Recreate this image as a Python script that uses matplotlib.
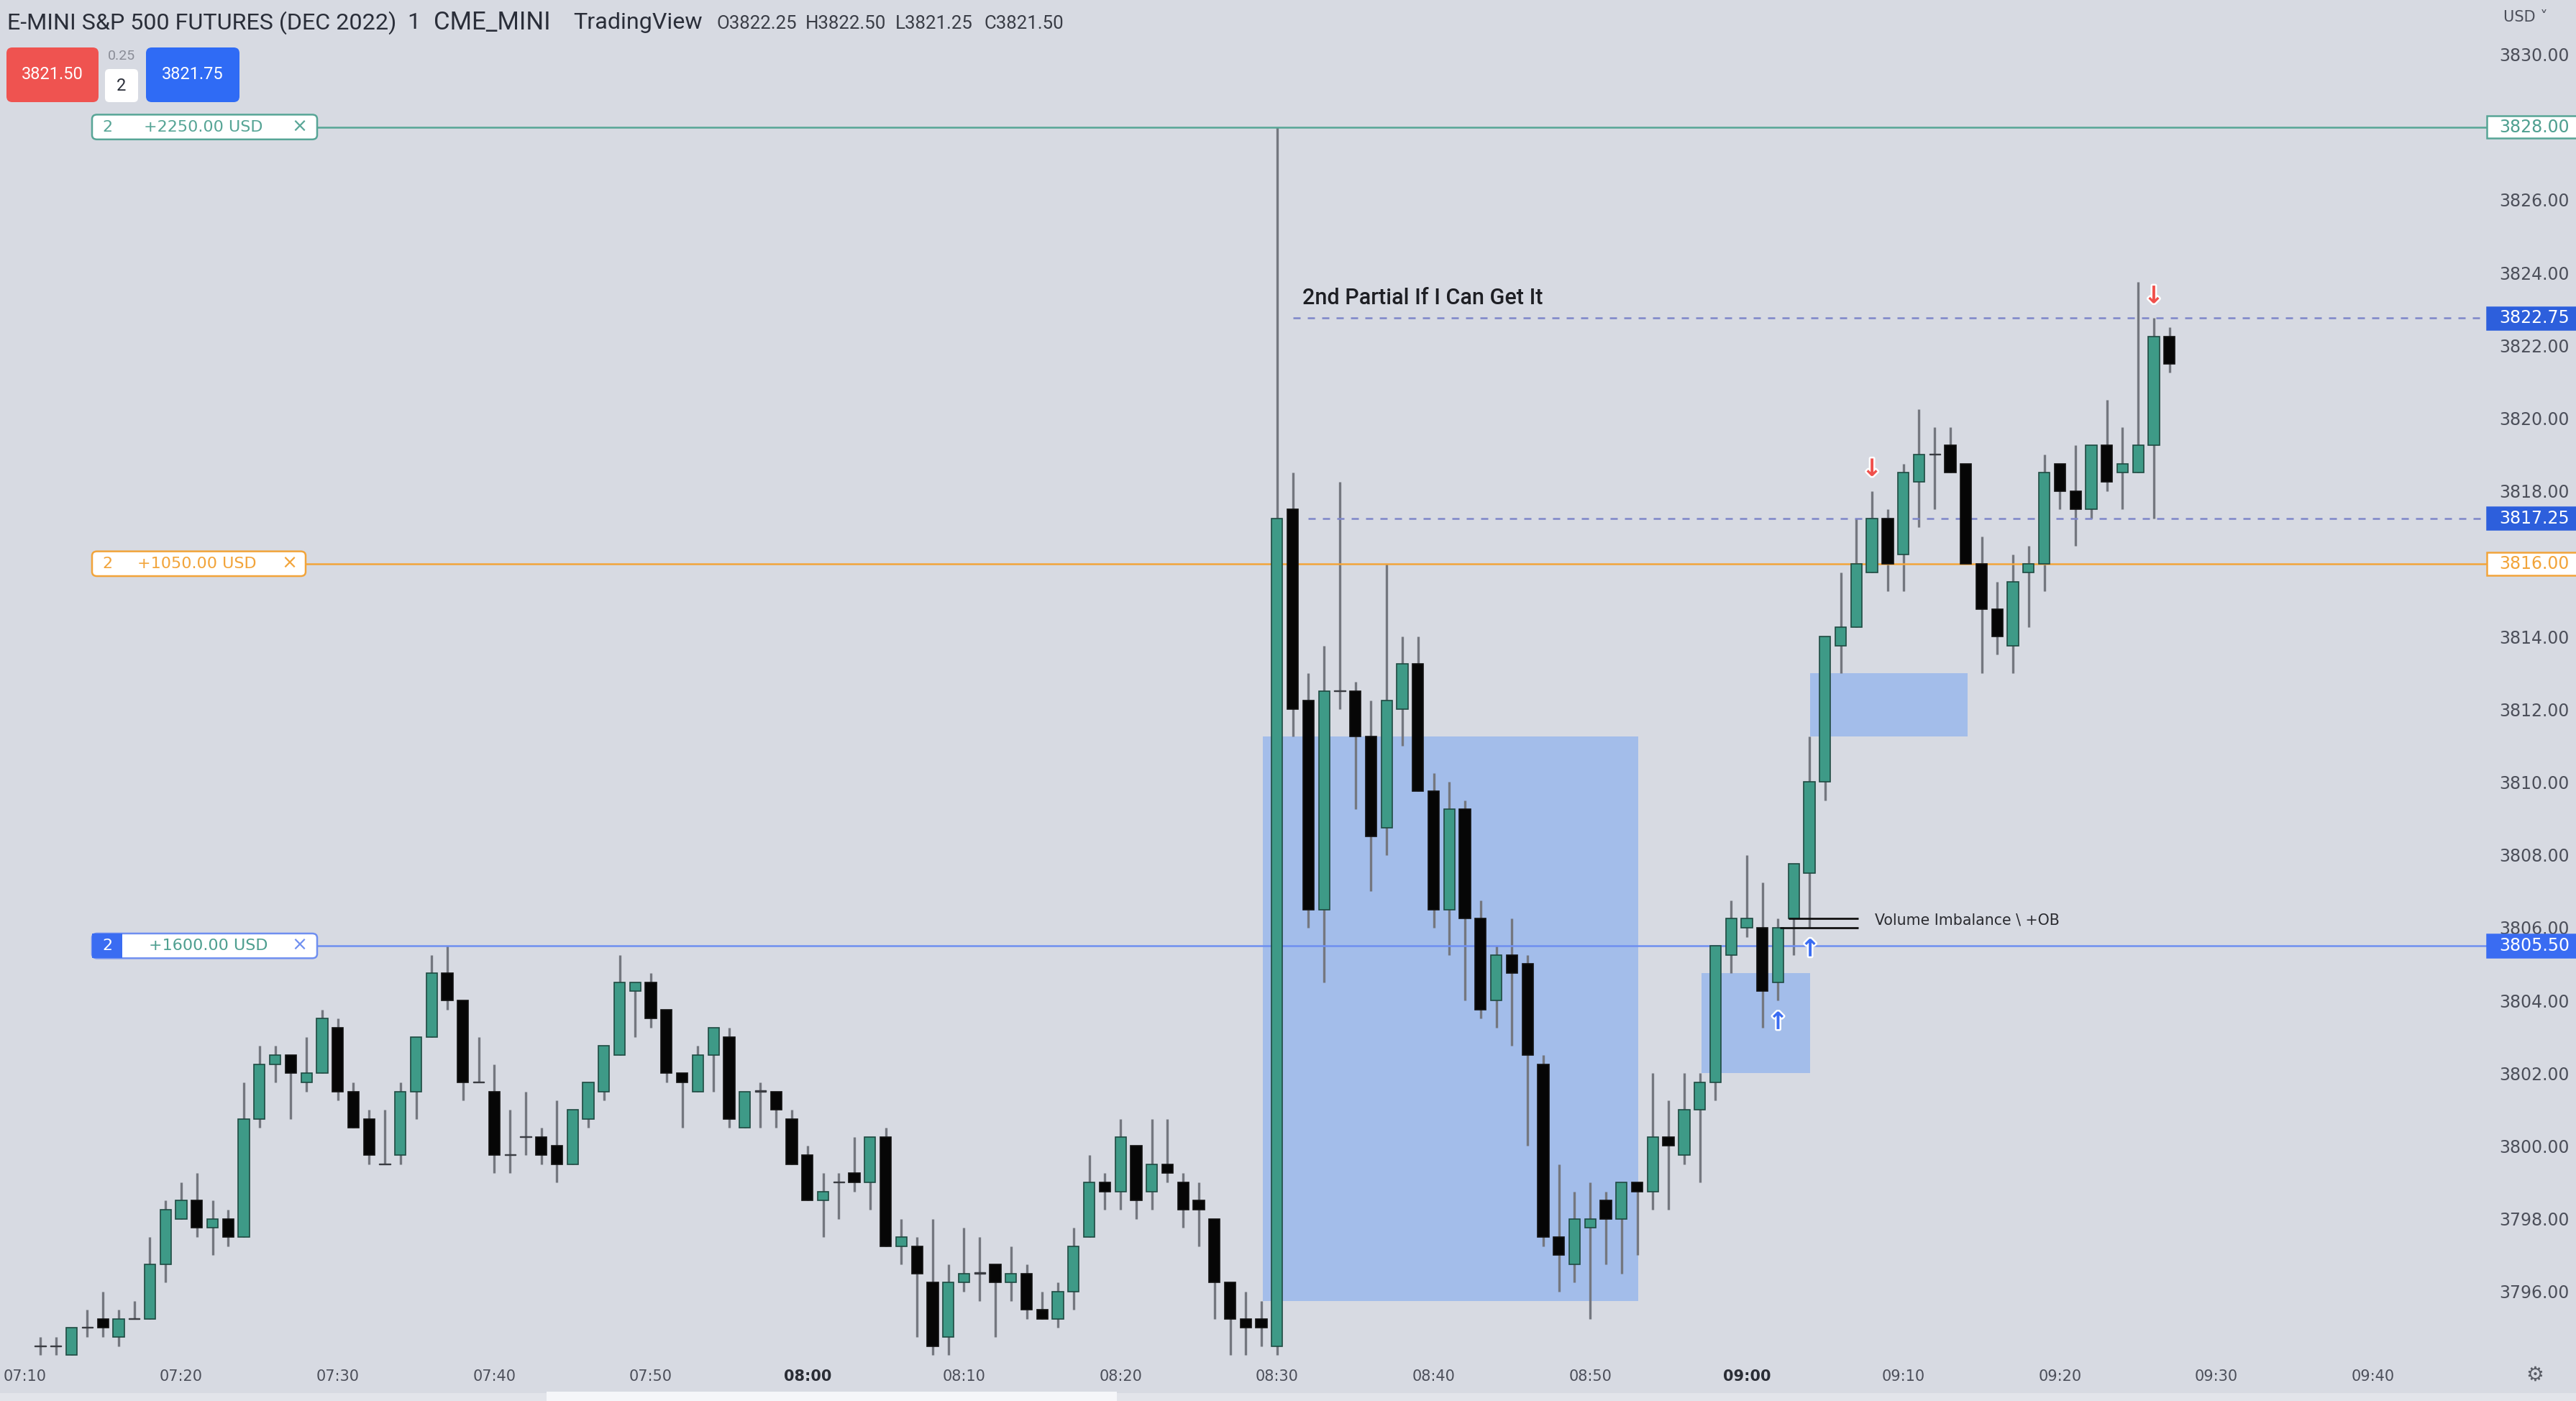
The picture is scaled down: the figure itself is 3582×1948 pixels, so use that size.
import matplotlib
matplotlib.use("Agg")
import matplotlib.pyplot as plt
import matplotlib.patheffects as pe
import numpy as np
from matplotlib.patches import FancyBboxPatch, Rectangle
from matplotlib.transforms import blended_transform_factory

plt.rcParams["font.family"] = ["DejaVu Sans"]

# ── Data: 1-minute candles, minute index counted from 07:10 ─────────────────
minute = list(range(1, 138))
opens = [
    3794.5, 3794.5, 3794.25, 3795.0, 3795.25, 3794.75, 3795.25, 3795.25, 3796.75, 3798.0,
    3798.5, 3797.75, 3798.0, 3797.5, 3800.75, 3802.25, 3802.5, 3801.75, 3802.0, 3803.25,
    3801.5, 3800.75, 3799.5, 3799.75, 3801.5, 3803.0, 3804.75, 3804.0, 3801.75, 3801.5,
    3799.75, 3800.25, 3800.25, 3800.0, 3799.5, 3800.75, 3801.5, 3802.5, 3804.25, 3804.5,
    3803.75, 3802.0, 3801.5, 3802.5, 3803.0, 3800.5, 3801.5, 3801.5, 3800.75, 3799.75,
    3798.5, 3799.0, 3799.25, 3799.0, 3800.25, 3797.25, 3797.25, 3796.25, 3794.75, 3796.25,
    3796.5, 3796.75, 3796.25, 3796.5, 3795.5, 3795.25, 3796.0, 3797.5, 3799.0, 3798.75,
    3800.0, 3798.75, 3799.5, 3799.0, 3798.5, 3798.0, 3796.25, 3795.25, 3795.25, 3794.5,
    3817.5, 3812.25, 3806.5, 3812.5, 3812.5, 3811.25, 3808.75, 3812.0, 3813.25, 3809.75,
    3806.5, 3809.25, 3806.25, 3804.0, 3805.25, 3805.0, 3802.25, 3797.5, 3796.75, 3797.75,
    3798.5, 3798.0, 3799.0, 3798.75, 3800.25, 3799.75, 3801.0, 3801.75, 3805.25, 3806.0,
    3806.0, 3804.5, 3806.25, 3807.5, 3810.0, 3813.75, 3814.25, 3815.75, 3817.25, 3816.25,
    3818.25, 3819.0, 3819.25, 3818.75, 3816.0, 3814.75, 3813.75, 3815.75, 3816.0, 3818.75,
    3818.0, 3817.5, 3819.25, 3818.5, 3818.5, 3819.25, 3822.25,
]
highs = [
    3794.75, 3794.75, 3795.0, 3795.5, 3796.0, 3795.5, 3795.75, 3797.5, 3798.5, 3799.0,
    3799.25, 3798.5, 3798.25, 3801.75, 3802.75, 3802.75, 3802.5, 3803.0, 3803.75, 3803.5,
    3801.75, 3801.0, 3801.0, 3801.75, 3803.0, 3805.25, 3805.5, 3804.0, 3803.0, 3802.25,
    3801.0, 3801.5, 3800.5, 3801.25, 3801.0, 3801.75, 3802.75, 3805.25, 3804.5, 3804.75,
    3803.75, 3802.0, 3802.75, 3803.25, 3803.25, 3801.5, 3801.75, 3801.5, 3801.0, 3800.0,
    3799.25, 3799.25, 3800.25, 3800.25, 3800.5, 3798.0, 3797.5, 3798.0, 3796.75, 3797.75,
    3797.5, 3796.75, 3797.25, 3796.75, 3796.0, 3796.25, 3797.75, 3799.75, 3799.25, 3800.75,
    3800.0, 3800.75, 3800.75, 3799.25, 3799.0, 3798.0, 3796.25, 3796.0, 3795.75, 3828.0,
    3818.5, 3813.0, 3813.75, 3818.25, 3812.75, 3812.25, 3816.0, 3814.0, 3814.0, 3810.25,
    3810.0, 3809.5, 3806.75, 3805.5, 3806.25, 3805.25, 3802.5, 3799.5, 3798.75, 3799.0,
    3798.75, 3799.0, 3799.0, 3802.0, 3801.25, 3802.0, 3802.0, 3805.5, 3806.75, 3808.0,
    3807.25, 3806.25, 3807.75, 3811.25, 3814.0, 3815.75, 3817.25, 3818.0, 3817.5, 3818.75,
    3820.25, 3819.75, 3819.75, 3818.75, 3816.75, 3815.5, 3816.25, 3816.5, 3819.0, 3818.75,
    3819.25, 3819.25, 3820.5, 3819.75, 3823.75, 3822.75, 3822.5,
]
lows = [
    3794.25, 3794.25, 3794.25, 3794.75, 3794.75, 3794.5, 3795.25, 3795.25, 3796.25, 3798.0,
    3797.5, 3797.0, 3797.25, 3797.5, 3800.5, 3801.75, 3800.75, 3801.5, 3802.0, 3801.25,
    3800.5, 3799.5, 3799.5, 3799.5, 3800.75, 3803.0, 3803.75, 3801.25, 3801.75, 3799.25,
    3799.25, 3799.75, 3799.5, 3799.0, 3799.5, 3800.5, 3801.25, 3802.5, 3803.0, 3803.25,
    3801.75, 3800.5, 3801.5, 3801.5, 3800.5, 3800.5, 3800.5, 3800.5, 3799.5, 3798.5,
    3797.5, 3798.0, 3798.75, 3798.25, 3797.25, 3796.75, 3794.75, 3794.25, 3794.25, 3796.0,
    3795.75, 3794.75, 3795.75, 3795.25, 3795.25, 3795.0, 3795.5, 3797.5, 3798.25, 3798.25,
    3798.0, 3798.25, 3799.0, 3797.75, 3797.25, 3795.25, 3794.25, 3794.25, 3794.5, 3794.25,
    3811.25, 3806.0, 3804.5, 3812.0, 3809.25, 3807.0, 3808.0, 3811.0, 3809.75, 3806.0,
    3805.25, 3804.0, 3803.5, 3803.25, 3802.75, 3800.0, 3797.25, 3796.0, 3796.25, 3795.25,
    3796.75, 3796.5, 3797.0, 3798.25, 3798.25, 3799.5, 3799.0, 3801.25, 3804.75, 3805.75,
    3803.25, 3804.0, 3805.25, 3806.0, 3809.5, 3813.0, 3814.25, 3815.75, 3815.25, 3815.25,
    3817.0, 3817.5, 3818.5, 3816.0, 3813.0, 3813.5, 3813.0, 3814.25, 3815.25, 3817.5,
    3816.5, 3817.25, 3818.0, 3817.5, 3818.5, 3817.25, 3821.25,
]
closes = [
    3794.5, 3794.5, 3795.0, 3795.0, 3795.0, 3795.25, 3795.25, 3796.75, 3798.25, 3798.5,
    3797.75, 3798.0, 3797.5, 3800.75, 3802.25, 3802.5, 3802.0, 3802.0, 3803.5, 3801.5,
    3800.5, 3799.75, 3799.5, 3801.5, 3803.0, 3804.75, 3804.0, 3801.75, 3801.75, 3799.75,
    3799.75, 3800.25, 3799.75, 3799.5, 3801.0, 3801.75, 3802.75, 3804.5, 3804.5, 3803.5,
    3802.0, 3801.75, 3802.5, 3803.25, 3800.75, 3801.5, 3801.5, 3801.0, 3799.5, 3798.5,
    3798.75, 3799.0, 3799.0, 3800.25, 3797.25, 3797.5, 3796.5, 3794.5, 3796.25, 3796.5,
    3796.5, 3796.25, 3796.5, 3795.5, 3795.25, 3796.0, 3797.25, 3799.0, 3798.75, 3800.25,
    3798.5, 3799.5, 3799.25, 3798.25, 3798.25, 3796.25, 3795.25, 3795.0, 3795.0, 3817.25,
    3812.0, 3806.5, 3812.5, 3812.5, 3811.25, 3808.5, 3812.25, 3813.25, 3809.75, 3806.5,
    3809.25, 3806.25, 3803.75, 3805.25, 3804.75, 3802.5, 3797.5, 3797.0, 3798.0, 3798.0,
    3798.0, 3799.0, 3798.75, 3800.25, 3800.0, 3801.0, 3801.75, 3805.5, 3806.25, 3806.25,
    3804.25, 3806.0, 3807.75, 3810.0, 3814.0, 3814.25, 3816.0, 3817.25, 3816.0, 3818.5,
    3819.0, 3819.0, 3818.5, 3816.0, 3814.75, 3814.0, 3815.5, 3816.0, 3818.5, 3818.0,
    3817.5, 3819.25, 3818.25, 3818.75, 3819.25, 3822.25, 3821.5,
]

# time axis
tick_minutes = list(range(0, 151, 10))
tick_labels = ["07:10", "07:20", "07:30", "07:40", "07:50", "08:00", "08:10", "08:20",
               "08:30", "08:40", "08:50", "09:00", "09:10", "09:20", "09:30", "09:40"]
bold_ticks = ["08:00", "09:00"]
price_ticks = list(range(3796, 3831, 2))

# drawn objects
order_prices = [3828.0, 3816.0, 3805.5]
order_qty = ["2", "2", "2"]
order_pnl = ["+2250.00 USD", "+1050.00 USD", "+1600.00 USD"]
order_colors = ["#57a596", "#f2a43a", "#6f8ff0"]

partial_levels = [3822.75, 3817.25]
partial_start = [81.0, 82.0]

# zones: (start minute, end minute, low, high)
zone_start = [79.1, 107.1, 114.05]
zone_end = [103.05, 114.05, 124.1]
zone_low = [3795.75, 3802.0, 3811.25]
zone_high = [3811.25, 3804.75, 3813.0]

vi_levels = [3806.25, 3806.0]
vi_start = [112.65, 112.1]
vi_end = [117.1, 117.1]

down_arrow_minute = [118, 136]
down_arrow_price = [3818.6, 3823.35]
up_arrow_minute = [112, 114.05]
up_arrow_price = [3803.4, 3805.4]

axis_marks = [3828.0, 3822.75, 3817.25, 3816.0, 3805.5]
axis_mark_face = ["white", "#2d5fdc", "#2d5fdc", "white", "#3a6cf2"]
axis_mark_edge = ["#57a596", "#2d5fdc", "#2d5fdc", "#f2a43a", "#3a6cf2"]
axis_mark_text = ["#4f9f90", "white", "white", "#f2a43a", "white"]

header_ohlc = ["O3822.25", "H3822.50", "L3821.25", "C3821.50"]

# ── Styling ─────────────────────────────────────────────────────────────────
W, H, DPI = 3582, 1948, 200
BG = "#d7dae2"
UP = "#3e9a87"
DOWN = "#060606"
EDGE_UP = "#1f4a42"
WICK = "#74777f"
LABEL = "#4c4f5a"

fig = plt.figure(figsize=(W / DPI, H / DPI), dpi=DPI, facecolor=BG)
ax = fig.add_axes([0, 58 / H, 3453 / W, 1890 / H])
ax.set_facecolor(BG)
for s in ax.spines.values():
    s.set_visible(False)
ax.set_xlim(-1.576, 157.04)
ax.set_ylim(3794.14, 3831.49)

x = np.array(minute, dtype=float)
o = np.array(opens)
h = np.array(highs)
l = np.array(lows)
c = np.array(closes)
is_up = c > o
is_doji = c == o
body_lo = np.minimum(o, c)
body_h = np.maximum(np.abs(c - o), 0.025)

# zones under the candles
for x0, x1, lo, hi in zip(zone_start, zone_end, zone_low, zone_high):
    ax.add_patch(Rectangle((x0, lo), x1 - x0, hi - lo, facecolor="#a3bdea",
                           edgecolor="none", zorder=1))

ax.vlines(x, l, h, color=WICK, lw=1.2, zorder=2)
ax.bar(x[is_up], body_h[is_up], bottom=body_lo[is_up], width=0.7,
       color=UP, edgecolor=EDGE_UP, lw=0.6, zorder=3)
dn = ~is_up & ~is_doji
ax.bar(x[dn], body_h[dn], bottom=body_lo[dn], width=0.7,
       color=DOWN, edgecolor="#111111", lw=0.6, zorder=3)
ax.bar(x[is_doji], body_h[is_doji], bottom=body_lo[is_doji], width=0.7,
       color="#3a3c42", edgecolor="#3a3c42", lw=0.5, zorder=3)

bt = blended_transform_factory(ax.transAxes, ax.transData)

# order lines with their labels
box_left = 128 / 3453
box_right = [441 / 3453, 425 / 3453, 441 / 3453]
pnl_center = [283 / 3453, 274 / 3453, 290 / 3453]
x_center = [416 / 3453, 402 / 3453, 416 / 3453]
for i, price in enumerate(order_prices):
    col = order_colors[i]
    ax.plot([box_right[i], 1.0015], [price, price], color=col, lw=0.9,
            transform=bt, clip_on=False, zorder=2.5)
    ax.add_patch(FancyBboxPatch((box_left, price - 0.34), box_right[i] - box_left, 0.68,
                                boxstyle="round,pad=0,rounding_size=0.002",
                                facecolor="white", edgecolor=col, lw=0.9,
                                transform=bt, zorder=6, mutation_aspect=60))
    txt_col = col
    if i == 2:
        ax.add_patch(Rectangle((box_left, price - 0.34), 42 / 3453, 0.68,
                               facecolor="#3a6cf2", edgecolor="none",
                               transform=bt, zorder=6.5))
        qty_col = "white"
        txt_col = "#4f9f90"
    else:
        qty_col = col
    ax.text(149 / 3453, price, order_qty[i], color=qty_col, fontsize=8,
            ha="center", va="center", transform=bt, zorder=7)
    ax.text(pnl_center[i], price, order_pnl[i], color=txt_col, fontsize=8,
            ha="center", va="center", transform=bt, zorder=7)
    ax.text(x_center[i], price, "×", color=col, fontsize=9.5,
            ha="center", va="center", transform=bt, zorder=7)

# partial exit levels
for lvl, x0 in zip(partial_levels, partial_start):
    ax.hlines(lvl, x0, ax.get_xlim()[1], colors="#7d86c9", lw=0.9,
              linestyles=(0, (4, 4)), zorder=2.5)
ax.text(81.6, 3823.3, "2nd Partial If I Can Get It", fontsize=11,
        family=["Roboto", "DejaVu Sans"], fontweight="medium", color="#1e1f24",
        va="center", zorder=5)

# volume imbalance marker
for lvl, x0, x1 in zip(vi_levels, vi_start, vi_end):
    ax.hlines(lvl, x0, x1, colors="#111111", lw=1.0, zorder=4)
ax.text(118.2, 3806.2, "Volume Imbalance \\ +OB", fontsize=7.4, color="#2a2b30",
        va="center", zorder=5)

for mx, py in zip(down_arrow_minute, down_arrow_price):
    ax.text(mx, py, "↓", color="#f0504c", fontsize=12, fontweight="bold",
            ha="center", va="center", zorder=6,
            path_effects=[pe.withStroke(linewidth=1.8, foreground="white")])
for mx, py in zip(up_arrow_minute, up_arrow_price):
    ax.text(mx, py, "↑", color="#3a6cf2", fontsize=12, fontweight="bold",
            ha="center", va="center", zorder=6,
            path_effects=[pe.withStroke(linewidth=1.8, foreground="white")])

# axes ticks
ax.yaxis.tick_right()
ax.set_yticks(price_ticks)
ax.set_yticklabels([f"{p:.2f}" for p in price_ticks])
ax.tick_params(axis="y", length=0, pad=8, labelsize=8.5, labelcolor=LABEL)
ax.set_xticks(tick_minutes)
ax.set_xticklabels(tick_labels)
ax.tick_params(axis="x", length=0, pad=5, labelsize=7.5, labelcolor=LABEL)
for lab in ax.get_xticklabels():
    if lab.get_text() in bold_ticks:
        lab.set_fontweight("bold")
        lab.set_color("#2a2d35")

for price, fc, ec, tc in zip(axis_marks, axis_mark_face, axis_mark_edge, axis_mark_text):
    ax.add_patch(Rectangle((1.0015, price - 0.31), 0.0365, 0.62, facecolor=fc,
                           edgecolor=ec, lw=0.9, transform=bt, clip_on=False, zorder=8))
    ax.text(1.0205, price, f"{price:.2f}", color=tc, fontsize=8.5, ha="center",
            va="center", transform=bt, clip_on=False, zorder=9)

# ── Header / toolbar overlay in pixel coordinates ───────────────────────────
ui = fig.add_axes([0, 0, 1, 1], zorder=10)
ui.set_xlim(0, W)
ui.set_ylim(H, 0)
ui.axis("off")
ui.patch.set_visible(False)

head_font = ["Roboto", "DejaVu Sans"]
ui.text(10, 32, "E-MINI S&P 500 FUTURES (DEC 2022)", fontsize=11.6, family=head_font,
        color="#2a2e39", va="center")
ui.text(566, 32, "1", fontsize=11.6, family=head_font, color="#2a2e39", va="center")
ui.text(603, 32, "CME_MINI", fontsize=12.5, family=head_font, color="#2a2e39", va="center")
ui.text(797, 32, "TradingView", fontsize=11.6, family=head_font, color="#2a2e39", va="center")
for xp, s in zip([996, 1120, 1245, 1369], header_ohlc):
    ui.text(xp, 33, s, fontsize=9.3, family=head_font, color="#3a3d46", va="center")

ui.add_patch(FancyBboxPatch((9, 66), 128, 76, boxstyle="round,pad=0,rounding_size=8",
                            facecolor="#ef5350", edgecolor="none"))
ui.text(73, 104, "3821.50", color="white", fontsize=8.5, ha="center", va="center",
        family=head_font)
ui.text(169, 78, "0.25", color="#8a8d97", fontsize=7, ha="center", va="center",
        family=head_font)
ui.add_patch(FancyBboxPatch((146, 96), 46, 46, boxstyle="round,pad=0,rounding_size=6",
                            facecolor="white", edgecolor="none"))
ui.text(169, 120, "2", color="#2a2e39", fontsize=8.5, ha="center", va="center",
        family=head_font)
ui.add_patch(FancyBboxPatch((203, 66), 130, 76, boxstyle="round,pad=0,rounding_size=8",
                            facecolor="#2f6bf5", edgecolor="none"))
ui.text(268, 104, "3821.75", color="white", fontsize=8.5, ha="center", va="center",
        family=head_font)

ui.text(3512, 24, "USD ˅", color=LABEL, fontsize=7.5, ha="center", va="center")
ui.text(3525, 1912, "⚙", color="#5a5d66", fontsize=10, ha="center", va="center")

ui.add_patch(Rectangle((0, 1937), W, 11, facecolor="#e2e4ea", edgecolor="none"))
ui.add_patch(Rectangle((760, 1935), 793, 13, facecolor="#f5f6f9", edgecolor="none"))

fig.savefig("out.png", dpi=DPI, facecolor=BG)
